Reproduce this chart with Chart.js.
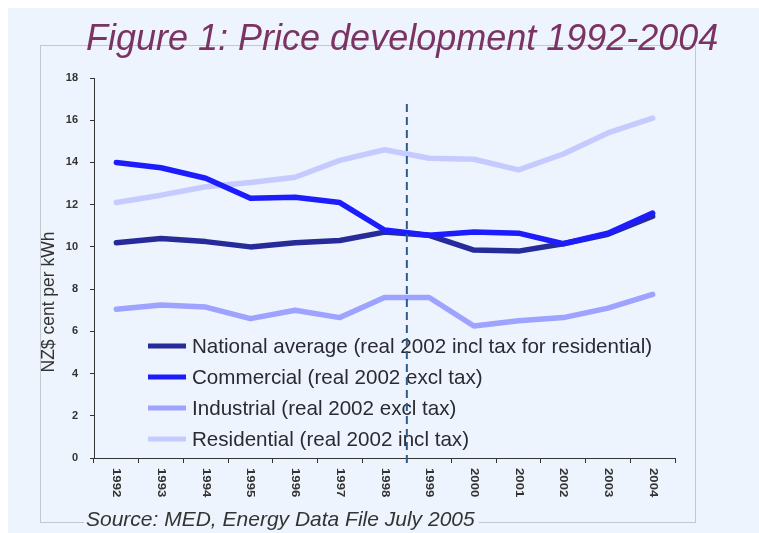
<!DOCTYPE html>
<html>
<head>
<meta charset="utf-8">
<script src="https://cdn.jsdelivr.net/npm/chart.js@4"></script>
<style>
  html, body { margin: 0; padding: 0; background: #fff; }
  #wrap { position: relative; width: 759px; height: 533px; }
</style>
</head>
<body>
<div id="wrap"><canvas id="chart" width="759" height="533"></canvas></div>
<script>
// chart data
const years       = ['1992','1993','1994','1995','1996','1997','1998','1999','2000','2001','2002','2003','2004'];
const national    = [10.2, 10.4, 10.25, 10.0, 10.2, 10.3, 10.7, 10.55, 9.85, 9.8, 10.15, 10.6, 11.45];
const commercial  = [14.0, 13.75, 13.25, 12.3, 12.35, 12.1, 10.8, 10.55, 10.7, 10.65, 10.15, 10.65, 11.6];
const industrial  = [7.05, 7.25, 7.15, 6.6, 7.0, 6.65, 7.6, 7.6, 6.25, 6.5, 6.65, 7.1, 7.75];
const residential = [12.1, 12.45, 12.85, 13.05, 13.3, 14.1, 14.6, 14.2, 14.15, 13.65, 14.4, 15.4, 16.1];
const seriesNames = [
  'National average (real 2002 incl tax for residential)',
  'Commercial (real 2002 excl tax)',
  'Industrial (real 2002 excl tax)',
  'Residential (real 2002 incl tax)',
];
const yTicks = [0, 2, 4, 6, 8, 10, 12, 14, 16, 18];

const FONT = '"Liberation Sans", Arial, sans-serif';
const BG = '#EEF4FD';
const COLORS = ['#262B99', '#1C1CFF', '#9DA3FF', '#C6CBFF'];

// backgrounds, frame, title and source line
const framePlugin = {
  id: 'frame',
  beforeDraw(chart) {
    const ctx = chart.ctx;
    ctx.save();
    ctx.fillStyle = '#fff';
    ctx.fillRect(0, 0, chart.width, chart.height);
    ctx.fillStyle = BG;
    ctx.fillRect(8, 8, chart.width - 8, chart.height - 8);
    ctx.strokeStyle = '#C3C7CE';
    ctx.lineWidth = 1;
    ctx.strokeRect(40.5, 45.5, 655, 477);

    ctx.fillStyle = '#7A3362';
    ctx.font = 'italic 36px ' + FONT;
    ctx.textBaseline = 'alphabetic';
    ctx.textAlign = 'left';
    ctx.fillText('Figure 1: Price development 1992-2004', 86, 50);

    ctx.font = 'italic 21px ' + FONT;
    const src = 'Source: MED, Energy Data File July 2005';
    const w = ctx.measureText(src).width;
    ctx.fillStyle = BG;
    ctx.fillRect(84, 506, w + 6, 24);
    ctx.fillStyle = '#333';
    ctx.fillText(src, 86, 526);
    ctx.restore();
  },
  afterDatasetsDraw(chart) {
    // legend inside the plot area
    const ctx = chart.ctx;
    ctx.save();
    ctx.font = '20.6px ' + FONT;
    ctx.textBaseline = 'middle';
    ctx.textAlign = 'left';
    chart.data.datasets.forEach((ds, i) => {
      const y = 346 + i * 31;
      ctx.strokeStyle = ds.borderColor;
      ctx.lineWidth = 5;
      ctx.beginPath();
      ctx.moveTo(148, y);
      ctx.lineTo(186, y);
      ctx.stroke();
      ctx.fillStyle = '#2A2A33';
      ctx.fillText(ds.label, 192, y + 1);
    });
    ctx.restore();
  },
  afterDraw(chart) {
    const ctx = chart.ctx;
    const xs = chart.scales.x;
    ctx.save();
    // x labels, turned clockwise
    ctx.fillStyle = '#333';
    ctx.font = 'bold 12px ' + FONT;
    ctx.textAlign = 'left';
    ctx.textBaseline = 'middle';
    years.forEach((yr, i) => {
      ctx.save();
      ctx.translate(xs.getPixelForValue(i), 468);
      ctx.rotate(Math.PI / 2);
      ctx.scale(1.1, 0.9);
      ctx.fillText(yr, 0, 0);
      ctx.restore();
    });
    // y axis title
    ctx.save();
    ctx.font = '17.5px ' + FONT;
    ctx.textAlign = 'center';
    ctx.translate(49, 302);
    ctx.rotate(-Math.PI / 2);
    ctx.fillText('NZ$ cent per kWh', 0, 0);
    ctx.restore();
    // dashed marker between 1998 and 1999
    const xm = (xs.getPixelForValue(6) + xs.getPixelForValue(7)) / 2;
    ctx.strokeStyle = '#2D5C8C';
    ctx.lineWidth = 2;
    ctx.setLineDash([8, 5]);
    ctx.beginPath();
    ctx.moveTo(xm, 104);
    ctx.lineTo(xm, 468);
    ctx.stroke();
    ctx.restore();
  },
};

const mkSet = (i, data, order) => ({
  label: seriesNames[i],
  data,
  borderColor: COLORS[i],
  backgroundColor: COLORS[i],
  borderWidth: 5.5,
  pointRadius: 0,
  tension: 0,
  borderCapStyle: 'round',
  borderJoinStyle: 'round',
  order,
});

new Chart(document.getElementById('chart'), {
  type: 'line',
  data: {
    labels: years,
    datasets: [
      mkSet(0, national, 1),
      mkSet(1, commercial, 0),
      mkSet(2, industrial, 2),
      mkSet(3, residential, 3),
    ],
  },
  options: {
    responsive: false,
    animation: false,
    devicePixelRatio: 1,
    layout: { padding: { left: 0, right: 84, top: 78, bottom: 55 } },
    plugins: { legend: { display: false }, title: { display: false }, tooltip: { enabled: false } },
    scales: {
      x: {
        offset: true,
        afterFit: s => { s.height = 20; },
        ticks: { display: false },
        grid: { display: true, drawOnChartArea: false, tickLength: 5, color: '#333', offset: true },
        border: { display: true, color: '#333', width: 1 },
      },
      y: {
        min: 0,
        max: 18,
        afterFit: s => { s.width = 94; },
        afterBuildTicks: s => { s.ticks = yTicks.map(v => ({ value: v })); },
        ticks: { color: '#333', font: { family: FONT, size: 11, weight: 'bold' }, padding: 12 },
        grid: { display: true, drawOnChartArea: false, tickLength: 4, color: '#333' },
        border: { display: true, color: '#333', width: 1 },
      },
    },
  },
  plugins: [framePlugin],
});
</script>
</body>
</html>
